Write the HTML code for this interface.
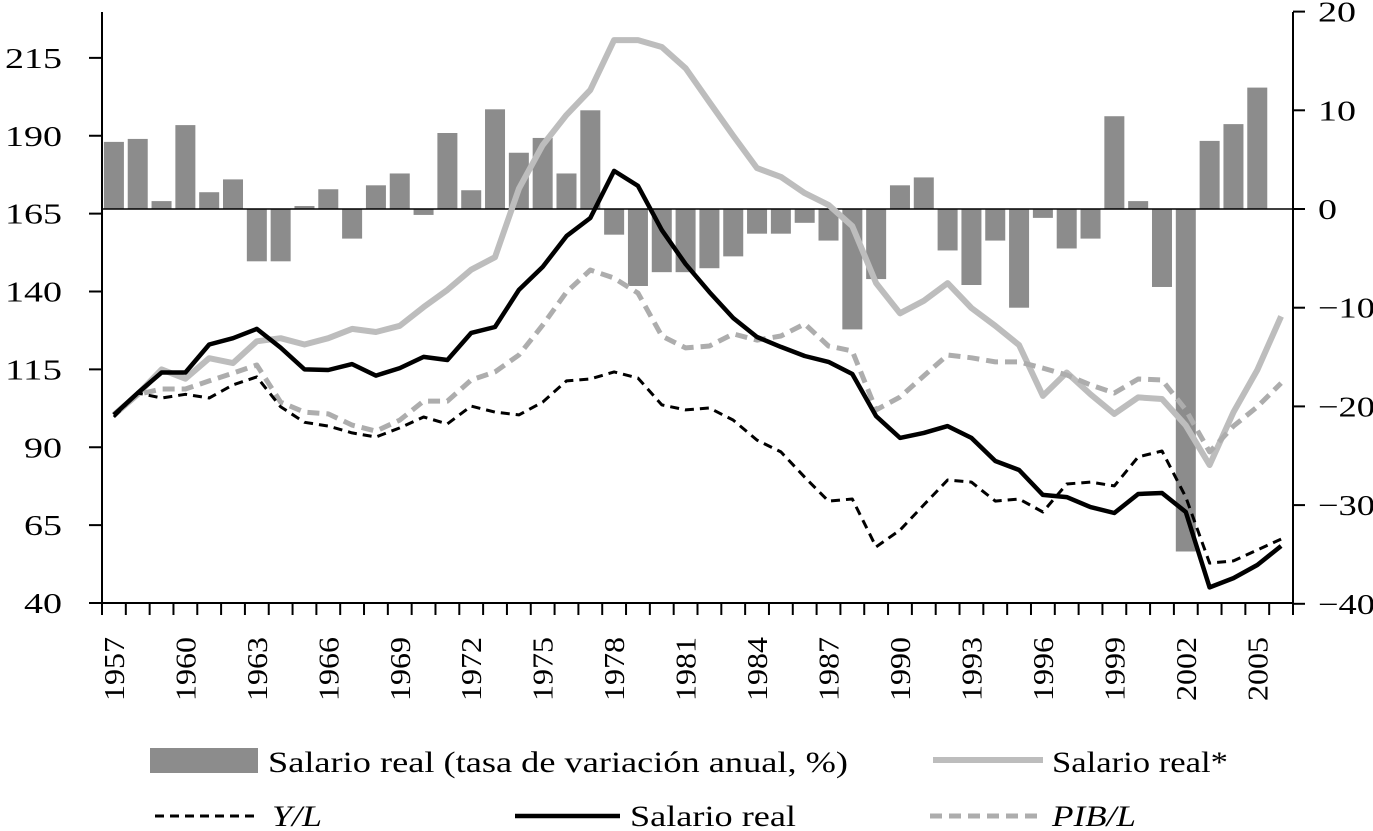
<!DOCTYPE html>
<html><head><meta charset="utf-8"><style>
html,body{margin:0;padding:0;background:#fff;}
svg{display:block;font-family:"Liberation Serif",serif;}
</style></head><body>
<svg id="chart" width="1373" height="831" viewBox="0 0 1373 831"></svg>
<script>
const years=[];for(let y=1957;y<=2006;y++)years.push(y);
const barValues=[6.8,7.1,0.8,8.5,1.7,3.0,-5.3,-5.3,0.3,2.0,-3.0,2.4,3.6,-0.6,7.7,1.9,10.1,5.7,7.2,3.6,10.0,-2.6,-7.8,-6.4,-6.4,-6.0,-4.8,-2.5,-2.5,-1.4,-3.2,-12.2,-7.1,2.4,3.2,-4.2,-7.7,-3.2,-10.0,-0.9,-4.0,-3.0,9.4,0.8,-7.9,-34.7,6.9,8.6,12.3];
const salarioRealStar=[100.4,107,115,112,118.6,117,124,125,123,125,128,127,129,135,140.5,147,151,173,187,196.7,204.7,220.7,220.7,218.5,211.7,200.8,190,179.6,176.8,171.6,167.8,161,142.7,133,137,142.7,134.7,129,122.8,106.5,114,107,100.7,106,105.5,97,84.3,101.3,114.8,132];
const salarioReal=[100.4,107.4,114,114,123,125,128,122,115,114.8,116.7,113,115.4,119,118,126.7,128.6,140.5,147.9,157.8,163.6,178.7,173.9,159.7,148.8,139.8,131.5,125.4,122.2,119.3,117.4,113.5,100,93,94.6,96.8,93,85.6,82.7,74.7,74,70.8,68.9,75,75.3,69.2,45,48,52.2,58.3];
const yL=[99.7,107.4,105.8,107,105.8,110,112.6,103,98,96.8,94.6,93.3,96.2,99.7,97.5,103.2,101.3,100.4,104.5,111.3,111.9,114.2,112.2,103.6,102,102.6,98.7,92.3,88.5,80.4,72.7,73.4,58,63.4,71.5,79.5,78.8,72.7,73.4,69.2,78.2,78.8,77.6,86.9,88.8,74,52.8,53.5,57,60.5];
const pibL=[100.4,107,108.7,108.7,111.3,113.8,116.4,104.5,101.3,100.7,97.1,95.2,98.7,104.8,104.8,111.6,114.2,119.6,129.2,139.8,146.9,144.3,139.5,125.7,121.9,122.5,126.4,124.4,125.7,129.6,122.5,120.9,102,106.1,112.9,119.6,118.7,117.4,117.4,115.4,113.2,110,107.4,111.9,111.6,102,88.5,96.8,103,110.6];
const leftTicks=[40,65,90,115,140,165,190,215];
const rightTicks=[-40,-30,-20,-10,0,10,20];
const xLabels=[1957,1960,1963,1966,1969,1972,1975,1978,1981,1984,1987,1990,1993,1996,1999,2002,2005];

const NS="http://www.w3.org/2000/svg";
const svg=document.getElementById('chart');
const X0=102,X1=1293,bw=(X1-X0)/50;
const xC=y=>X0+(y-1957+0.5)*bw;
const yL_=v=>603-(v-40)*3.115;
const yR=v=>209-v*9.87;
function el(t,a,p){const e=document.createElementNS(NS,t);for(const k in a)e.setAttribute(k,a[k]);(p||svg).appendChild(e);return e;}

barValues.forEach((v,i)=>{const yr=years[i];
 const r=el('rect',{x:xC(yr)-10,y:Math.min(yR(v),yR(0)),width:20,height:Math.abs(yR(v)-yR(0)),fill:'#8c8c8c'});
 
 
});
const z=el('line',{x1:X0,x2:X1,y1:yR(0),y2:yR(0),stroke:'#000','stroke-width':1.5});


const ax=el('path',{d:`M${X0} 12 V603 M89 603 H${X1} M${X1} 12 V603`,stroke:'#000','stroke-width':2,fill:'none'});


leftTicks.forEach(t=>{const y=yL_(t);
 el('line',{x1:89,x2:X0,y1:y,y2:y,stroke:'#000','stroke-width':2});
 const s=String(t);
 const tx=el('text',{x:62,y:y+10,'text-anchor':'end','font-size':29,textLength:s.length*19,lengthAdjust:'spacingAndGlyphs'});tx.textContent=s;
 
 
});
rightTicks.forEach(t=>{const y=yR(t);
 el('line',{x1:X1,x2:X1+12,y1:y,y2:y,stroke:'#000','stroke-width':2});
 const s=t<0?'\u2212'+(-t):String(t);
 const tx=el('text',{x:1318,y:y+10,'font-size':29,textLength:(t<0?57:(t===0?19:38)),lengthAdjust:'spacingAndGlyphs'});tx.textContent=s;
 
 
});
for(let i=0;i<=50;i++){const x=X0+i*bw;el('line',{x1:x,x2:x,y1:603,y2:615,stroke:'#000','stroke-width':2});}
xLabels.forEach(yr=>{const x=xC(yr)+10,y=701;
 const tx=el('text',{x:x,y:y,'font-size':29,textLength:64,lengthAdjust:'spacingAndGlyphs',transform:`rotate(-90 ${x} ${y})`});tx.textContent=yr;
 
 
});
function line(vals,name,attrs){
 const d=vals.map((v,i)=>(i?'L':'M')+xC(years[i]).toFixed(1)+' '+yL_(v).toFixed(1)).join(' ');
 const p=el('path',Object.assign({d:d,fill:'none','stroke-linejoin':'round'},attrs));
 
 
}
line(salarioRealStar,'salario-real-star-line',{stroke:'#bdbdbd','stroke-width':6});
line(pibL,'pib-l-line',{stroke:'#adadad','stroke-width':5,'stroke-dasharray':'12 7'});
line(yL,'y-l-line',{stroke:'#000','stroke-width':3,'stroke-dasharray':'9 6'});
line(salarioReal,'salario-real-line',{stroke:'#000','stroke-width':4.5});
</script>
<svg width="1373" height="831" style="position:absolute;left:0;top:0;font-family:'Liberation Serif',serif">
 <rect x="150" y="748" width="108" height="25" fill="#8c8c8c"/>
 <text x="268" y="772" font-size="30" textLength="580" lengthAdjust="spacingAndGlyphs">Salario real (tasa de variación anual, %)</text>
 <line x1="933" x2="1043" y1="760" y2="760" stroke="#bdbdbd" stroke-width="6"/>
 <text x="1052" y="772" font-size="30" textLength="176" lengthAdjust="spacingAndGlyphs">Salario real*</text>
 <line x1="155" x2="258" y1="816" y2="816" stroke="#000" stroke-width="3" stroke-dasharray="9 6"/>
 <text x="272" y="826" font-size="30" font-style="italic" textLength="50" lengthAdjust="spacingAndGlyphs">Y/L</text>
 <line x1="515" x2="620" y1="816" y2="816" stroke="#000" stroke-width="4.5"/>
 <text x="630" y="826" font-size="30" textLength="166" lengthAdjust="spacingAndGlyphs">Salario real</text>
 <line x1="930" x2="1040" y1="816" y2="816" stroke="#adadad" stroke-width="5" stroke-dasharray="12 7"/>
 <text x="1052" y="826" font-size="30" font-style="italic" textLength="84" lengthAdjust="spacingAndGlyphs">PIB/L</text>
</svg>
</body></html>
